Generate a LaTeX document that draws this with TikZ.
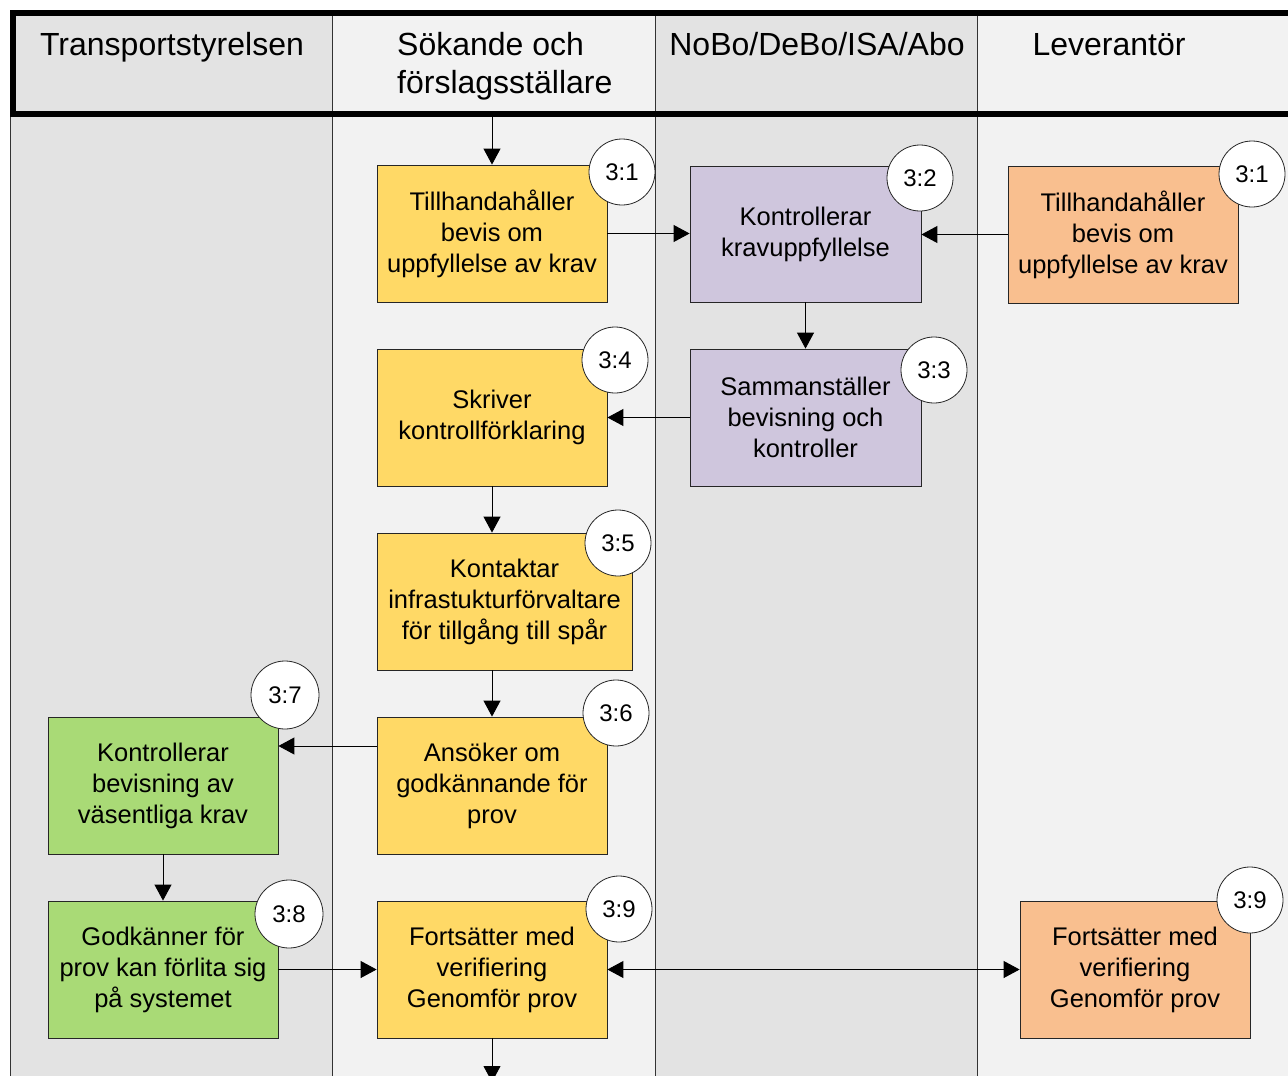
\documentclass[tikz,border=0pt]{standalone}
\usepackage{fontspec}
\setmainfont{Liberation Sans}
\usetikzlibrary{arrows.meta}
\definecolor{laneA}{HTML}{E3E3E3}
\definecolor{laneB}{HTML}{F2F2F2}
\definecolor{yel}{HTML}{FFD966}
\definecolor{pur}{HTML}{CFC6DD}
\definecolor{ora}{HTML}{F9BF8F}
\definecolor{grn}{HTML}{A9DA76}
\tikzset{
  box/.style={draw=black!85, line width=0.8pt, minimum width=230pt, minimum height=137pt,
    align=center, inner sep=0pt, font=\fontsize{25.5}{31}\selectfont},
  num/.style={circle, draw=black!85, fill=white, line width=0.8pt, minimum size=66pt, inner sep=0pt,
    font=\fontsize{24}{28}\selectfont},
  hdr/.style={font=\fontsize{32}{38}\selectfont, inner sep=0pt},
  conn/.style={line width=0.9pt, -{Triangle[length=16pt,width=17pt]}},
  lanediv/.style={line width=0.9pt, draw=black!80}
}
\begin{document}
\begin{tikzpicture}[x=1pt,y=-1pt]
\useasboundingbox (0,0) rectangle (1288,1076);
\fill[white] (0,0) rectangle (1288,1076);
% lane backgrounds
\fill[laneA] (10,114) rectangle (332,1090);
\fill[laneB] (332,114) rectangle (655,1090);
\fill[laneA] (655,114) rectangle (977,1090);
\fill[laneB] (977,114) rectangle (1300,1090);
% header backgrounds
\fill[laneA] (13,13) rectangle (332,114);
\fill[laneB] (332,13) rectangle (655,114);
\fill[laneA] (655,13) rectangle (977,114);
\fill[laneB] (977,13) rectangle (1300,114);
% lane dividers
\draw[lanediv] (10,114) -- (10,1090);
\foreach \x in {332,655,977} \draw[lanediv] (\x,13) -- (\x,1090);
% header frame
\draw[line width=6pt] (1300,13) -- (13,13) -- (13,114) -- (1300,114);
% header texts
\node[hdr, anchor=base] (h1) at (172,55) {Transportstyrelsen};
\node[hdr, anchor=base west, align=left] (h2) at (397,93) {Sökande och\\förslagsställare};
\node[hdr, anchor=base] (h3) at (817,55) {NoBo/DeBo/ISA/Abo};
\node[hdr, anchor=base] (h4) at (1109,55) {Leverantör};
% boxes
\node[box, fill=yel] (y31) at (492,233.5) {Tillhandahåller\\bevis om\\uppfyllelse av krav};
\node[box, fill=pur, minimum width=231pt, minimum height=136pt] (p32) at (805.5,234) {Kontrollerar\\kravuppfyllelse};
\node[box, fill=ora] (o31) at (1123,234.5) {Tillhandahåller\\bevis om\\uppfyllelse av krav};
\node[box, fill=yel] (y34) at (492,417.5) {Skriver\\kontrollförklaring};
\node[box, fill=pur, minimum width=231pt] (p33) at (805.5,417.5) {Sammanställer\\bevisning och\\kontroller};
\node[box, fill=yel, minimum width=255pt] (y35) at (504.5,601.5) {Kontaktar\\infrastukturförvaltare\\för tillgång till spår};
\node[box, fill=yel] (y36) at (492,785.5) {Ansöker om\\godkännande för\\prov};
\node[box, fill=grn] (g37) at (163,785.5) {Kontrollerar\\bevisning av\\väsentliga krav};
\node[box, fill=grn] (g38) at (163,969.5) {Godkänner för\\prov kan förlita sig\\på systemet};
\node[box, fill=yel] (y39) at (492,969.5) {Fortsätter med\\verifiering\\Genomför prov};
\node[box, fill=ora] (o39) at (1135,969.5) {Fortsätter med\\verifiering\\Genomför prov};
% number circles
\node[num] (c31y) at (622,172) {3:1};
\node[num] (c32) at (920,178) {3:2};
\node[num] (c31o) at (1252,174) {3:1};
\node[num] (c34) at (615,360) {3:4};
\node[num] (c33) at (934,370) {3:3};
\node[num] (c35) at (618,543) {3:5};
\node[num] (c36) at (616,713) {3:6};
\node[num, minimum size=68pt] (c37) at (285,695) {3:7};
\node[num, minimum size=68pt] (c38) at (289,914) {3:8};
\node[num] (c39y) at (619,909) {3:9};
\node[num] (c39o) at (1250,900) {3:9};
% connectors
\coordinate (start) at (492,117);
\coordinate (finish) at (492,1082);
\draw[conn] (start) -- (y31.north);
\draw[conn] (y31.east) -- (y31.east -| p32.west);
\draw[conn] (o31.west) -- (o31.west -| p32.east);
\draw[conn] (p32.south) -- (p33.north);
\draw[conn] (p33.west) -- (p33.west -| y34.east);
\draw[conn] (y34.south) -- (y34.south |- y35.north);
\draw[conn] (y36.north |- y35.south) -- (y36.north);
\draw[conn] ([yshift=39.5pt]y36.west) -- ([yshift=39.5pt]y36.west -| g37.east);
\draw[conn] (g37.south) -- (g38.north);
\draw[conn] (g38.east) -- (y39.west);
\draw[line width=0.9pt, {Triangle[length=16pt,width=17pt]}-{Triangle[length=16pt,width=17pt]}] (y39.east) -- (o39.west);
\draw[conn] (y39.south) -- (finish);
\end{tikzpicture}
\end{document}
